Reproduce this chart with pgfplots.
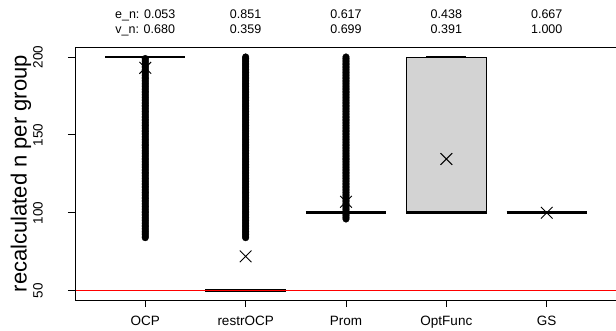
\documentclass[border=0pt]{standalone}
\usepackage{fontspec}
\setmainfont{Liberation Sans}
\usepackage{pgfplots}
\pgfplotsset{compat=1.18}
\definecolor{boxgray}{HTML}{D3D3D3}
\begin{document}
\begin{tikzpicture}
\begin{axis}[
  at={(0,0)}, anchor=south west,
  scale only axis, width=542bp, height=252.7bp,
  xmin=0.3, xmax=5.7, ymin=44, ymax=206.2,
  clip=false,
  axis line style={draw=none},
  xtick={1,2,3,4,5}, xticklabels={OCP,restrOCP,Prom,OptFunc,GS},
  ytick={50,100,150,200},
  tick align=outside, xtick pos=left, ytick pos=left,
  major tick length=7bp,
  tick style={black, line width=0.8bp},
  ticklabel style={font=\fontsize{13.5bp}{16bp}\selectfont},
  /pgf/number format/assume math mode=true,
  yticklabel style={xshift=-30bp, rotate=90, anchor=center},
  xticklabel shift=6bp,
  ylabel={recalculated n per group},
  every axis y label/.style={at={(rel axis cs:0,0.5)}, xshift=-54bp, rotate=90, anchor=center, font=\fontsize{22bp}{26bp}\selectfont},
]
% OptFunc box
\addplot[draw=black, fill=boxgray, line width=0.8bp] coordinates {(3.6,100) (4.4,100) (4.4,200) (3.6,200)} -- cycle;
\addplot[black, line width=1.3bp] coordinates {(3.8,200) (4.2,200)};
% medians
\addplot[black, line width=2.8bp] coordinates {(0.6,200) (1.4,200)};
\addplot[black, line width=2.8bp] coordinates {(1.6,50) (2.4,50)};
\addplot[black, line width=2.8bp] coordinates {(2.6,100) (3.4,100)};
\addplot[black, line width=2.8bp] coordinates {(3.6,100) (4.4,100)};
\addplot[black, line width=2.8bp] coordinates {(4.6,100) (5.4,100)};
% outliers
\addplot[only marks, mark=*, mark size=3.3bp, black] coordinates {
(1,84) (1,85) (1,86) (1,87) (1,88) (1,89) (1,90) (1,91) (1,92) (1,93) (1,94) (1,95) (1,96) (1,97) (1,98) (1,99) (1,100) (1,101) (1,102) (1,103) (1,104) (1,105) (1,106) (1,107) (1,108) (1,109) (1,110) (1,111) (1,112) (1,113) (1,114) (1,115) (1,116) (1,117) (1,118) (1,119) (1,120) (1,121) (1,122) (1,123) (1,124) (1,125) (1,126) (1,127) (1,128) (1,129) (1,130) (1,131) (1,132) (1,133) (1,134) (1,135) (1,136) (1,137) (1,138) (1,139) (1,140) (1,141) (1,142) (1,143) (1,144) (1,145) (1,146) (1,147) (1,148) (1,149) (1,150) (1,151) (1,152) (1,153) (1,154) (1,155) (1,156) (1,157) (1,158) (1,159) (1,160) (1,161) (1,162) (1,163) (1,164) (1,165) (1,166) (1,167) (1,168) (1,169) (1,170) (1,171) (1,172) (1,173) (1,174) (1,175) (1,176) (1,177) (1,178) (1,179) (1,180) (1,181) (1,182) (1,183) (1,184) (1,185) (1,186) (1,187) (1,188) (1,189) (1,190) (1,191) (1,192) (1,193) (1,194) (1,195) (1,196) (1,197) (1,198) (1,199)};
\addplot[only marks, mark=*, mark size=3.3bp, black] coordinates {
(2,84) (2,85) (2,86) (2,87) (2,88) (2,89) (2,90) (2,91) (2,92) (2,93) (2,94) (2,95) (2,96) (2,97) (2,98) (2,99) (2,100) (2,101) (2,102) (2,103) (2,104) (2,105) (2,106) (2,107) (2,108) (2,109) (2,110) (2,111) (2,112) (2,113) (2,114) (2,115) (2,116) (2,117) (2,118) (2,119) (2,120) (2,121) (2,122) (2,123) (2,124) (2,125) (2,126) (2,127) (2,128) (2,129) (2,130) (2,131) (2,132) (2,133) (2,134) (2,135) (2,136) (2,137) (2,138) (2,139) (2,140) (2,141) (2,142) (2,143) (2,144) (2,145) (2,146) (2,147) (2,148) (2,149) (2,150) (2,151) (2,152) (2,153) (2,154) (2,155) (2,156) (2,157) (2,158) (2,159) (2,160) (2,161) (2,162) (2,163) (2,164) (2,165) (2,166) (2,167) (2,168) (2,169) (2,170) (2,171) (2,172) (2,173) (2,174) (2,175) (2,176) (2,177) (2,178) (2,179) (2,180) (2,181) (2,182) (2,183) (2,184) (2,185) (2,186) (2,187) (2,188) (2,189) (2,190) (2,191) (2,192) (2,193) (2,194) (2,195) (2,196) (2,197) (2,198) (2,199) (2,200)};
\addplot[only marks, mark=*, mark size=3.3bp, black] coordinates {
(3,96) (3,97) (3,98) (3,99) (3,101) (3,102) (3,103) (3,104) (3,105) (3,106) (3,107) (3,108) (3,109) (3,110) (3,111) (3,112) (3,113) (3,114) (3,115) (3,116) (3,117) (3,118) (3,119) (3,120) (3,121) (3,122) (3,123) (3,124) (3,125) (3,126) (3,127) (3,128) (3,129) (3,130) (3,131) (3,132) (3,133) (3,134) (3,135) (3,136) (3,137) (3,138) (3,139) (3,140) (3,141) (3,142) (3,143) (3,144) (3,145) (3,146) (3,147) (3,148) (3,149) (3,150) (3,151) (3,152) (3,153) (3,154) (3,155) (3,156) (3,157) (3,158) (3,159) (3,160) (3,161) (3,162) (3,163) (3,164) (3,165) (3,166) (3,167) (3,168) (3,169) (3,170) (3,171) (3,172) (3,173) (3,174) (3,175) (3,176) (3,177) (3,178) (3,179) (3,180) (3,181) (3,182) (3,183) (3,184) (3,185) (3,186) (3,187) (3,188) (3,189) (3,190) (3,191) (3,192) (3,193) (3,194) (3,195) (3,196) (3,197) (3,198) (3,199) (3,200)};
% reference line
\addplot[red, line width=1bp] coordinates {(0.3,50) (5.7,50)};
% means
\addplot[only marks, mark=x, mark size=8.3bp, line width=0.9bp, black] coordinates {(1,193) (2,72) (3,107) (4,134.5) (5,100)};
% frame (right side outside the picture)
\draw[line width=0.8bp] (rel axis cs:1,1) -- (rel axis cs:0,1) -- (rel axis cs:0,0) -- (rel axis cs:1,0);
% top annotations
\begin{scope}[every node/.style={anchor=base, font=\fontsize{12.5bp}{15bp}\selectfont, inner sep=0pt}]
\node[yshift=28.3bp] at (axis cs:1,206.2) {e\_n: 0.053};
\node[yshift=13.8bp] at (axis cs:1,206.2) {v\_n: 0.680};
\node[yshift=28.3bp] at (axis cs:2,206.2) {0.851};
\node[yshift=13.8bp] at (axis cs:2,206.2) {0.359};
\node[yshift=28.3bp] at (axis cs:3,206.2) {0.617};
\node[yshift=13.8bp] at (axis cs:3,206.2) {0.699};
\node[yshift=28.3bp] at (axis cs:4,206.2) {0.438};
\node[yshift=13.8bp] at (axis cs:4,206.2) {0.391};
\node[yshift=28.3bp] at (axis cs:5,206.2) {0.667};
\node[yshift=13.8bp] at (axis cs:5,206.2) {1.000};
\end{scope}
\end{axis}
\pgfresetboundingbox
\path[use as bounding box] (-75bp,-31bp) rectangle (541bp,300bp);
\end{tikzpicture}
\end{document}
